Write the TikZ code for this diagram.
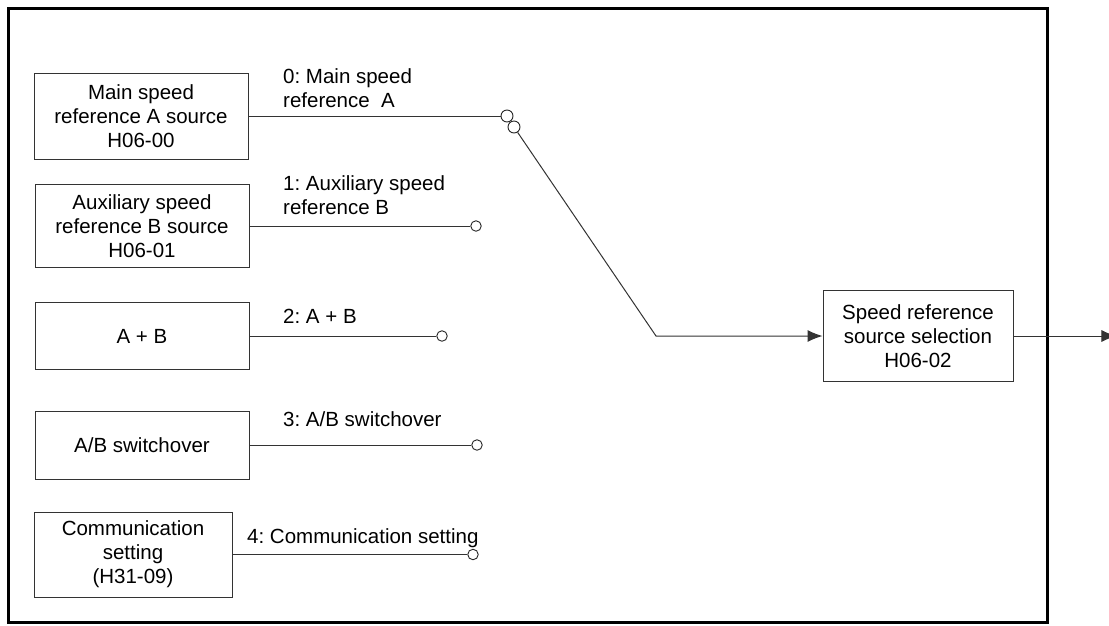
\documentclass[tikz,border=0pt]{standalone}
\usepackage{fontspec}
\setmainfont{Liberation Sans}
\frenchspacing
\usetikzlibrary{arrows.meta,positioning}

\begin{document}
\begin{tikzpicture}[x=1pt,y=-1pt,>={Latex[length=15pt,width=12pt]},
  font=\fontsize{20.5}{24}\selectfont,
  srcbox/.style={draw=black!80,line width=0.9pt,minimum width=214pt,inner sep=0pt,align=center},
  lbl/.style={anchor=north west,inner sep=0pt,align=left},
  sw/.style={circle,draw=black!85,fill=white,line width=0.9pt,minimum size=10.5pt,inner sep=0pt},
  wire/.style={draw=black!80,line width=1pt}]
  \useasboundingbox (0,0) rectangle (1109,625);
  \draw[line width=3pt] (8,8) rectangle (1047,622);
  \node[srcbox,minimum height=86pt] (a) at (141,116) {Main speed\\reference A source\\H06-00};
  \node[srcbox,minimum height=83pt] (b) at (142,226) {Auxiliary speed\\reference B source\\H06-01};
  \node[srcbox,minimum height=67pt] (c) at (142,336) {A + B};
  \node[srcbox,minimum height=68pt] (d) at (142,445) {A/B switchover};
  \node[srcbox,minimum height=85pt,minimum width=198pt] (e) at (133,554.5) {Communication\\setting\\(H31-09)};
  \node[srcbox,minimum height=91pt,minimum width=190pt] (sel) at (918,336) {Speed reference\\source selection\\H06-02};
  \node[sw,minimum size=12pt] (swa) at (507,116) {};
  \node[sw,minimum size=12pt] (swk) at (514,127) {};
  \node[sw] (swb) at (476,226) {};
  \node[sw] (swc) at (442,336) {};
  \node[sw] (swd) at (477,445) {};
  \node[sw] (swe) at (473,554.5) {};
  \node[lbl] (la) at (283,68) {0: Main speed\\reference\ \ A};
  \node[lbl] (lb) at (283,175) {1: Auxiliary speed\\reference B};
  \node[lbl] (lc) at (283,309) {2: A + B};
  \node[lbl] (ld) at (283,411) {3: A/B switchover};
  \node[lbl] (le) at (247,528) {4: Communication setting};
  \coordinate (bend) at (656,336);
  \coordinate[right=103pt of sel.east] (out);
  \draw[wire] (a.east) -- (swa.west);
  \draw[wire] (b.east) -- (swb.west);
  \draw[wire] (c.east) -- (swc.west);
  \draw[wire] (d.east) -- (swd.west);
  \draw[wire] (e.east) -- (swe.west);
  \draw[wire,->] (swk) -- (bend) -- (sel.west);
  \draw[wire,->] (sel.east) -- (out);
\end{tikzpicture}
\end{document}
